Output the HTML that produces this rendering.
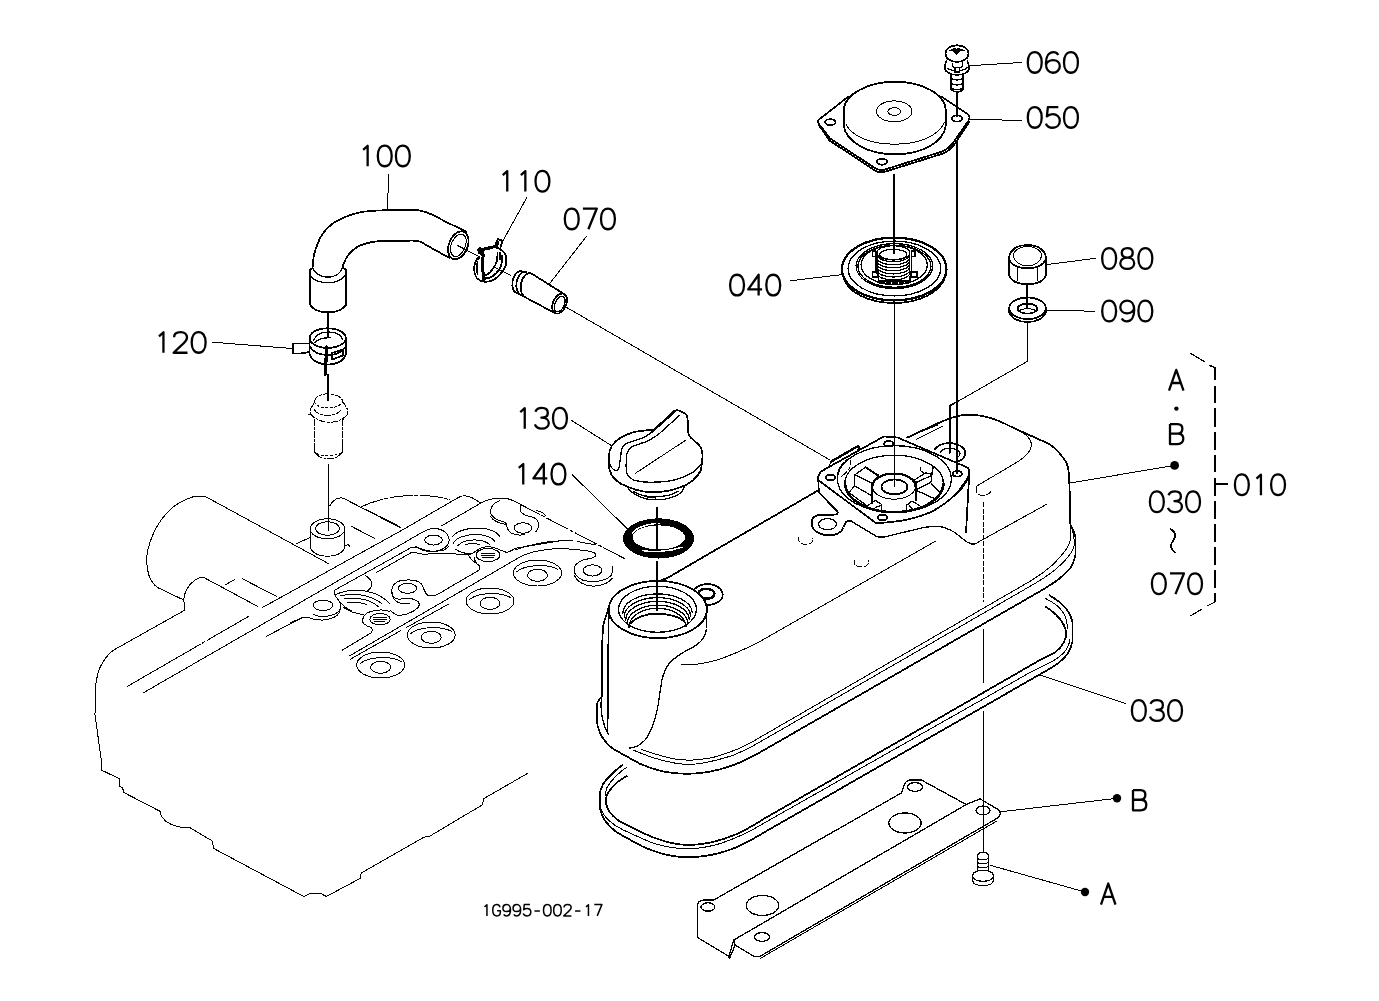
<!DOCTYPE html>
<html><head><meta charset="utf-8"><title>Parts diagram</title>
<style>
html,body{margin:0;padding:0;background:#fff;font-family:"Liberation Sans",sans-serif;}
svg{display:block}
svg *{fill:none;stroke:#000;stroke-linecap:round;stroke-linejoin:round}
.k{stroke-width:1.75}
.m{stroke-width:1.3}
.t{stroke-width:1}
.e{stroke-width:1;stroke:#000}
.lbl path{stroke-linecap:butt;stroke-linejoin:round;vector-effect:non-scaling-stroke;shape-rendering:geometricPrecision}
.f{fill:#000;stroke:none}
circle.f{shape-rendering:geometricPrecision}
.w{fill:#fff}
.tx{font-family:"Liberation Sans",sans-serif;fill:#000;fill-opacity:0;stroke:none}
.wf{fill:#fff;stroke:none}
</style></head><body>
<svg shape-rendering="crispEdges" width="1379" height="1001" viewBox="0 0 1379 1001">
<rect x="0" y="0" width="1379" height="1001" style="fill:#fff;stroke:none"/>
<g class="lbl" stroke-width="2.30"><path transform="translate(1027.80,52.05) scale(0.9929,0.9409)" d="M7,0 C3,0 0,4 0,11 C0,18 3,22 7,22 C11,22 14,18 14,11 C14,4 11,0 7,0 Z"/><path transform="translate(1045.90,52.05) scale(0.9929,0.9409)" d="M12.5,3 C11.5,1 9.5,0 7.5,0 C3,0 0,4.5 0,12 C0,18.5 3,22 7,22 C11,22 14,19 14,15 C14,11 11,8.5 7,8.5 C3.5,8.5 0.5,11 0,14"/><path transform="translate(1064.00,52.05) scale(0.9929,0.9409)" d="M7,0 C3,0 0,4 0,11 C0,18 3,22 7,22 C11,22 14,18 14,11 C14,4 11,0 7,0 Z"/></g>
<text class="tx" x="1027.8" y="72.8" font-size="28.6">060</text>
<g class="lbl" stroke-width="2.30"><path transform="translate(1027.80,107.05) scale(0.9929,0.9409)" d="M7,0 C3,0 0,4 0,11 C0,18 3,22 7,22 C11,22 14,18 14,11 C14,4 11,0 7,0 Z"/><path transform="translate(1045.90,107.05) scale(0.9929,0.9409)" d="M12.5,0 L2,0 L1,10 C2.5,8.5 4.5,7.5 7,7.5 C11,7.5 14,10.5 14,14.5 C14,19 11,22 7,22 C3.5,22 1,20.5 0,17.5"/><path transform="translate(1064.00,107.05) scale(0.9929,0.9409)" d="M7,0 C3,0 0,4 0,11 C0,18 3,22 7,22 C11,22 14,18 14,11 C14,4 11,0 7,0 Z"/></g>
<text class="tx" x="1027.8" y="127.8" font-size="28.6">050</text>
<g class="lbl" stroke-width="2.30"><path transform="translate(730.10,274.75) scale(0.9929,0.9409)" d="M7,0 C3,0 0,4 0,11 C0,18 3,22 7,22 C11,22 14,18 14,11 C14,4 11,0 7,0 Z"/><path transform="translate(748.20,274.75) scale(0.9929,0.9409)" d="M10.5,22 L10.5,0 L0,15.5 L14,15.5"/><path transform="translate(766.30,274.75) scale(0.9929,0.9409)" d="M7,0 C3,0 0,4 0,11 C0,18 3,22 7,22 C11,22 14,18 14,11 C14,4 11,0 7,0 Z"/></g>
<text class="tx" x="730.1" y="295.4" font-size="28.6">040</text>
<g class="lbl" stroke-width="2.30"><path transform="translate(1102.20,248.15) scale(0.9929,0.9409)" d="M7,0 C3,0 0,4 0,11 C0,18 3,22 7,22 C11,22 14,18 14,11 C14,4 11,0 7,0 Z"/><path transform="translate(1120.30,248.15) scale(0.9929,0.9409)" d="M7,10 C3.5,10 1.5,8 1.5,5 C1.5,2 3.5,0 7,0 C10.5,0 12.5,2 12.5,5 C12.5,8 10.5,10 7,10 C11,10 14,12.5 14,16 C14,19.5 11,22 7,22 C3,22 0,19.5 0,16 C0,12.5 3,10 7,10 Z"/><path transform="translate(1138.40,248.15) scale(0.9929,0.9409)" d="M7,0 C3,0 0,4 0,11 C0,18 3,22 7,22 C11,22 14,18 14,11 C14,4 11,0 7,0 Z"/></g>
<text class="tx" x="1102.2" y="268.9" font-size="28.6">080</text>
<g class="lbl" stroke-width="2.30"><path transform="translate(1102.20,300.65) scale(0.9929,0.9409)" d="M7,0 C3,0 0,4 0,11 C0,18 3,22 7,22 C11,22 14,18 14,11 C14,4 11,0 7,0 Z"/><path transform="translate(1120.30,300.65) scale(0.9929,0.9409)" d="M1.5,19 C2.5,21 4.5,22 6.5,22 C11,22 14,17.5 14,10 C14,3.5 11,0 7,0 C3,0 0,3 0,7 C0,11 3,13.5 7,13.5 C10.5,13.5 13.5,11 14,8"/><path transform="translate(1138.40,300.65) scale(0.9929,0.9409)" d="M7,0 C3,0 0,4 0,11 C0,18 3,22 7,22 C11,22 14,18 14,11 C14,4 11,0 7,0 Z"/></g>
<text class="tx" x="1102.2" y="321.4" font-size="28.6">090</text>
<g class="lbl" stroke-width="2.30"><path transform="translate(1234.90,474.45) scale(0.9929,0.9409)" d="M7,0 C3,0 0,4 0,11 C0,18 3,22 7,22 C11,22 14,18 14,11 C14,4 11,0 7,0 Z"/><path transform="translate(1253.00,474.45) scale(0.9929,0.9409)" d="M3.5,4.5 L8,0.3 L8,22"/><path transform="translate(1271.10,474.45) scale(0.9929,0.9409)" d="M7,0 C3,0 0,4 0,11 C0,18 3,22 7,22 C11,22 14,18 14,11 C14,4 11,0 7,0 Z"/></g>
<text class="tx" x="1234.9" y="495.1" font-size="28.6">010</text>
<g class="lbl" stroke-width="2.30"><path transform="translate(1149.90,491.45) scale(0.9929,0.9409)" d="M7,0 C3,0 0,4 0,11 C0,18 3,22 7,22 C11,22 14,18 14,11 C14,4 11,0 7,0 Z"/><path transform="translate(1168.00,491.45) scale(0.9929,0.9409)" d="M0.5,4 C1.5,1.5 4,0 7,0 C11,0 13,2.3 13,5.3 C13,8.5 10.5,10.3 6.5,10.3 C11,10.3 14,12.5 14,16 C14,19.5 11,22 7,22 C3.5,22 1,20.5 0,17.5"/><path transform="translate(1186.10,491.45) scale(0.9929,0.9409)" d="M7,0 C3,0 0,4 0,11 C0,18 3,22 7,22 C11,22 14,18 14,11 C14,4 11,0 7,0 Z"/></g>
<text class="tx" x="1149.9" y="512.1" font-size="28.6">030</text>
<g class="lbl" stroke-width="2.30"><path transform="translate(1151.90,573.45) scale(0.9929,0.9409)" d="M7,0 C3,0 0,4 0,11 C0,18 3,22 7,22 C11,22 14,18 14,11 C14,4 11,0 7,0 Z"/><path transform="translate(1170.00,573.45) scale(0.9929,0.9409)" d="M0,0 L14,0 L5.5,22"/><path transform="translate(1188.10,573.45) scale(0.9929,0.9409)" d="M7,0 C3,0 0,4 0,11 C0,18 3,22 7,22 C11,22 14,18 14,11 C14,4 11,0 7,0 Z"/></g>
<text class="tx" x="1151.9" y="594.1" font-size="28.6">070</text>
<g class="lbl" stroke-width="2.30"><path transform="translate(1131.90,700.15) scale(0.9929,0.9409)" d="M7,0 C3,0 0,4 0,11 C0,18 3,22 7,22 C11,22 14,18 14,11 C14,4 11,0 7,0 Z"/><path transform="translate(1150.00,700.15) scale(0.9929,0.9409)" d="M0.5,4 C1.5,1.5 4,0 7,0 C11,0 13,2.3 13,5.3 C13,8.5 10.5,10.3 6.5,10.3 C11,10.3 14,12.5 14,16 C14,19.5 11,22 7,22 C3.5,22 1,20.5 0,17.5"/><path transform="translate(1168.10,700.15) scale(0.9929,0.9409)" d="M7,0 C3,0 0,4 0,11 C0,18 3,22 7,22 C11,22 14,18 14,11 C14,4 11,0 7,0 Z"/></g>
<text class="tx" x="1131.9" y="720.9" font-size="28.6">030</text>
<g class="lbl" stroke-width="2.30"><path transform="translate(359.70,145.55) scale(0.9929,0.9409)" d="M3.5,4.5 L8,0.3 L8,22"/><path transform="translate(377.80,145.55) scale(0.9929,0.9409)" d="M7,0 C3,0 0,4 0,11 C0,18 3,22 7,22 C11,22 14,18 14,11 C14,4 11,0 7,0 Z"/><path transform="translate(395.90,145.55) scale(0.9929,0.9409)" d="M7,0 C3,0 0,4 0,11 C0,18 3,22 7,22 C11,22 14,18 14,11 C14,4 11,0 7,0 Z"/></g>
<text class="tx" x="359.7" y="166.2" font-size="28.6">100</text>
<g class="lbl" stroke-width="2.30"><path transform="translate(499.30,170.85) scale(0.9929,0.9409)" d="M3.5,4.5 L8,0.3 L8,22"/><path transform="translate(517.40,170.85) scale(0.9929,0.9409)" d="M3.5,4.5 L8,0.3 L8,22"/><path transform="translate(535.50,170.85) scale(0.9929,0.9409)" d="M7,0 C3,0 0,4 0,11 C0,18 3,22 7,22 C11,22 14,18 14,11 C14,4 11,0 7,0 Z"/></g>
<text class="tx" x="499.3" y="191.6" font-size="28.6">110</text>
<g class="lbl" stroke-width="2.30"><path transform="translate(564.80,208.55) scale(0.9929,0.9409)" d="M7,0 C3,0 0,4 0,11 C0,18 3,22 7,22 C11,22 14,18 14,11 C14,4 11,0 7,0 Z"/><path transform="translate(582.90,208.55) scale(0.9929,0.9409)" d="M0,0 L14,0 L5.5,22"/><path transform="translate(601.00,208.55) scale(0.9929,0.9409)" d="M7,0 C3,0 0,4 0,11 C0,18 3,22 7,22 C11,22 14,18 14,11 C14,4 11,0 7,0 Z"/></g>
<text class="tx" x="564.8" y="229.2" font-size="28.6">070</text>
<g class="lbl" stroke-width="2.30"><path transform="translate(155.50,332.05) scale(0.9929,0.9409)" d="M3.5,4.5 L8,0.3 L8,22"/><path transform="translate(173.60,332.05) scale(0.9929,0.9409)" d="M0.5,5.5 C0.5,2 3,0 7,0 C11,0 13.5,2.3 13.5,5.8 C13.5,9 11,11.5 7,15 L0,22 L14,22"/><path transform="translate(191.70,332.05) scale(0.9929,0.9409)" d="M7,0 C3,0 0,4 0,11 C0,18 3,22 7,22 C11,22 14,18 14,11 C14,4 11,0 7,0 Z"/></g>
<text class="tx" x="155.5" y="352.8" font-size="28.6">120</text>
<g class="lbl" stroke-width="2.30"><path transform="translate(516.80,407.95) scale(0.9929,0.9409)" d="M3.5,4.5 L8,0.3 L8,22"/><path transform="translate(534.90,407.95) scale(0.9929,0.9409)" d="M0.5,4 C1.5,1.5 4,0 7,0 C11,0 13,2.3 13,5.3 C13,8.5 10.5,10.3 6.5,10.3 C11,10.3 14,12.5 14,16 C14,19.5 11,22 7,22 C3.5,22 1,20.5 0,17.5"/><path transform="translate(553.00,407.95) scale(0.9929,0.9409)" d="M7,0 C3,0 0,4 0,11 C0,18 3,22 7,22 C11,22 14,18 14,11 C14,4 11,0 7,0 Z"/></g>
<text class="tx" x="516.8" y="428.6" font-size="28.6">130</text>
<g class="lbl" stroke-width="2.30"><path transform="translate(515.30,463.75) scale(0.9929,0.9409)" d="M3.5,4.5 L8,0.3 L8,22"/><path transform="translate(533.40,463.75) scale(0.9929,0.9409)" d="M10.5,22 L10.5,0 L0,15.5 L14,15.5"/><path transform="translate(551.50,463.75) scale(0.9929,0.9409)" d="M7,0 C3,0 0,4 0,11 C0,18 3,22 7,22 C11,22 14,18 14,11 C14,4 11,0 7,0 Z"/></g>
<text class="tx" x="515.3" y="484.4" font-size="28.6">140</text>
<g class="lbl" stroke-width="2.30"><path transform="translate(1169.00,369.85) scale(1.0357,0.9409)" d="M0,22 L7,0 L14,22 M2.7,14 L11.3,14"/></g>
<text class="tx" x="1169.0" y="390.6" font-size="28.6">A</text>
<g class="lbl" stroke-width="2.30"><path transform="translate(1170.00,424.05) scale(0.9500,0.9091)" d="M0,0 L0,22 L8,22 C12,22 14,19.5 14,16 C14,12.5 12,10.5 8,10.5 L0,10.5 M8,10.5 C11.5,10.5 13,8.5 13,5.2 C13,2 11.5,0 8,0 L0,0"/></g>
<text class="tx" x="1170.0" y="444.1" font-size="27.6">B</text>
<g class="lbl" stroke-width="2.30"><path transform="translate(1133.00,790.05) scale(0.9500,0.9227)" d="M0,0 L0,22 L8,22 C12,22 14,19.5 14,16 C14,12.5 12,10.5 8,10.5 L0,10.5 M8,10.5 C11.5,10.5 13,8.5 13,5.2 C13,2 11.5,0 8,0 L0,0"/></g>
<text class="tx" x="1133.0" y="810.3" font-size="28.0">B</text>
<g class="lbl" stroke-width="2.30"><path transform="translate(1101.00,883.55) scale(1.0357,0.9545)" d="M0,22 L7,0 L14,22 M2.7,14 L11.3,14"/></g>
<text class="tx" x="1101.0" y="904.5" font-size="29.0">A</text>
<g class="lbl" stroke-width="1.50"><path transform="translate(482.60,904.60) scale(0.5429,0.5136)" d="M3.5,4.5 L8,0.3 L8,22"/><path transform="translate(492.75,904.60) scale(0.5429,0.5136)" d="M13.5,5 C12.5,2 10.5,0 7.5,0 C3,0 0,4 0,11 C0,18 3,22 7.5,22 C11,22 14,19.5 14,15 L14,12 L8,12"/><path transform="translate(502.90,904.60) scale(0.5429,0.5136)" d="M1.5,19 C2.5,21 4.5,22 6.5,22 C11,22 14,17.5 14,10 C14,3.5 11,0 7,0 C3,0 0,3 0,7 C0,11 3,13.5 7,13.5 C10.5,13.5 13.5,11 14,8"/><path transform="translate(513.05,904.60) scale(0.5429,0.5136)" d="M1.5,19 C2.5,21 4.5,22 6.5,22 C11,22 14,17.5 14,10 C14,3.5 11,0 7,0 C3,0 0,3 0,7 C0,11 3,13.5 7,13.5 C10.5,13.5 13.5,11 14,8"/><path transform="translate(523.20,904.60) scale(0.5429,0.5136)" d="M12.5,0 L2,0 L1,10 C2.5,8.5 4.5,7.5 7,7.5 C11,7.5 14,10.5 14,14.5 C14,19 11,22 7,22 C3.5,22 1,20.5 0,17.5"/><path transform="translate(533.35,904.60) scale(0.5429,0.5136)" d="M2,12.5 L12,12.5"/><path transform="translate(543.50,904.60) scale(0.5429,0.5136)" d="M7,0 C3,0 0,4 0,11 C0,18 3,22 7,22 C11,22 14,18 14,11 C14,4 11,0 7,0 Z"/><path transform="translate(553.65,904.60) scale(0.5429,0.5136)" d="M7,0 C3,0 0,4 0,11 C0,18 3,22 7,22 C11,22 14,18 14,11 C14,4 11,0 7,0 Z"/><path transform="translate(563.80,904.60) scale(0.5429,0.5136)" d="M0.5,5.5 C0.5,2 3,0 7,0 C11,0 13.5,2.3 13.5,5.8 C13.5,9 11,11.5 7,15 L0,22 L14,22"/><path transform="translate(573.95,904.60) scale(0.5429,0.5136)" d="M2,12.5 L12,12.5"/><path transform="translate(584.10,904.60) scale(0.5429,0.5136)" d="M3.5,4.5 L8,0.3 L8,22"/><path transform="translate(594.25,904.60) scale(0.5429,0.5136)" d="M0,0 L14,0 L5.5,22"/></g>
<text class="tx" x="482.6" y="915.9" font-size="15.6">1G995-002-17</text>
<circle class="f" cx="1176.4" cy="408.6" r="2.2"/>
<circle class="f" cx="1174.6" cy="465.4" r="4.4"/>
<circle class="f" cx="1117" cy="798.3" r="4.2"/>
<circle class="f" cx="1085" cy="892" r="4.2"/>
<path class="k" d="M1170.5,529 C1176,532 1176.5,536 1173.5,540 C1170,544.5 1170,549 1175,552.4"/>
<path class="m" d="M1191,353.6 L1205,362 M1210,365.6 L1215,367.6"/>
<path class="m" d="M1215,367.6V380 M1215,386V403 M1215,408V427 M1215,432V450 M1215,455V472 M1215,478V496 M1215,501V519 M1215,524V542 M1215,547V565 M1215,570V588 M1215,593V602 L1207,606 M1202,609 L1191,615.6 M1215,484 H1228"/>
<g class="t"><path d="M968.3,65.8 L1021.7,62.5"/><path d="M969.2,119.2 L1021.7,120.5"/><path d="M790,280.8 L841.3,274.7"/><path d="M1045.8,264.7 L1095.8,258.3"/><path d="M1045.8,310 L1095,311.3"/><path d="M1070,483 L1174.6,465.4"/><path d="M1040,675 L1126,703.75"/><path d="M1001,811.75 L1117,798.3"/><path d="M991,865.5 L1085,892"/><path d="M388.9,174 L387.2,210.2"/><path d="M526.9,197.4 L501.5,243.4"/><path d="M586.3,236.6 L549.3,284"/><path d="M212.5,342.2 L293.2,348.6"/><path d="M571.7,420.5 L611.7,445.8"/><path d="M572.5,475 L627.2,528.7"/></g>
<g class="k"><path d="M312.5,268.0 C312.8,265.8 313.1,259.0 314.0,255.0 C314.9,251.0 316.3,247.1 317.6,243.8 C318.9,240.5 320.1,237.7 321.8,235.0 C323.5,232.3 325.5,230.1 327.7,227.9 C329.9,225.7 332.3,223.7 335.0,222.0 C337.7,220.3 340.8,219.0 343.7,217.7 C346.6,216.4 349.4,215.3 352.5,214.3 C355.6,213.3 358.8,212.5 362.5,211.9 C366.2,211.3 370.9,211.0 375.0,210.7 C379.1,210.4 381.3,210.4 387.2,210.2 C393.1,210.0 404.9,209.6 410.4,209.7 C415.9,209.8 416.9,210.0 420.0,210.6 C423.1,211.2 424.8,211.5 429.2,213.4 C433.6,215.3 440.4,219.0 446.6,222.1 C452.8,225.2 463.2,230.2 466.5,231.8"/><path d="M449.5,258 L420.5,241.8 C417,240.6 416,240.6 413,240.6 L382.8,240.9 C372,241.5 366,243 360,245.5 C352,249.5 347.5,255.5 345.5,259.5 C343.5,263.5 342.8,266 342.5,268"/><path d="M312.5,268 L309.8,269.5 L309.8,304.5 C314,311 322,312.4 328,312.4 C335,312.4 343,310 346.3,304.5 L346.3,270 L342.5,267.5"/></g>
<g class="m"><path d="M312.5,268 C316,274.5 322,277.2 328,277.2 C334,277.2 340,274 342.5,268"/><path d="M309.8,275.5 C314,280.5 321,282.7 328,282.7 C335,282.7 342,280 346.3,274.3"/></g>
<ellipse class="k" cx="458.3" cy="245.3" rx="9.3" ry="14.6" transform="rotate(22 458.3 245.3)"/>
<ellipse class="t" cx="458.3" cy="245.3" rx="7" ry="11.8" transform="rotate(22 458.3 245.3)"/>
<g class="t"><path d="M457.8,245.6 L480,257.2"/><path d="M494.6,267.3 L510.4,275.4"/><path d="M565,306.5 L830,460"/></g>
<path class="k" d="M328,312.4 V337.5"/>
<path class="k" d="M327.8,374.3 V400.7"/>
<path class="t" d="M328.3,464 V531"/>
<g class="k"><path d="M531.3,273.4 L565.3,294.8"/><path d="M518.1,293.5 L554.3,312.8"/><path d="M522.2,271.4 C518,270 514,274 512.5,281 C511.5,288 514,293 518.1,293.5"/><path d="M526.2,271.9 C522,271 518,275 516.5,282 C515.5,289 518,294 521.5,295.3"/><path d="M531.3,273.4 C527,272 522.5,276.5 521,283.5 C520,289.5 521.5,294.5 524.5,296.8"/></g>
<ellipse class="k" cx="559.6" cy="303.6" rx="6.6" ry="10.6" transform="rotate(24 559.6 303.6)"/>
<ellipse class="m" cx="559.8" cy="304" rx="4.6" ry="8.3" transform="rotate(24 559.8 304)"/>
<g class="k"><path d="M478.8,256.5 C476,260 474.2,264.5 474,269 C474.2,273 475.5,276.3 477,278.5 C479.5,280.7 482,281.7 484.8,281.8 C488,281.9 491,281.2 493.2,280.2 C497,278 500,275 501,273.2 C503.5,270 505.5,266.5 506,264.8 C506.3,261.5 506.3,258.5 505.8,255.8 C504.5,252.5 502.5,250.5 501,249.8 C499,248.6 497,247.3 495,246.2 L484.8,248 C482,249.5 480,251.5 478.8,253.5"/><path d="M483.2,255 C482.5,262 482.5,271 484,279.5" style="stroke-width:3"/><path d="M478.8,258 C477,262 476.5,268 477.5,274"/><path d="M478.5,250 C484,249.5 490,248 496.5,246.3" style="stroke-width:3.2"/><path d="M497.4,252.8 C497.6,256 497.4,258.5 496.8,261.2 C496,264 494.8,266.3 493.2,268.4 C491.5,270.8 489.8,272.8 487.8,274.4 C486.5,275.2 485.5,275.6 484.2,275.6"/><path d="M502.2,255.8 C502.3,260 502,263 501,266 C499.5,269.5 498,271.5 496.2,273.2 C494,275.5 491.5,277 489,278 C487.5,278.2 486,278.2 484.8,278"/><path d="M495,246.2 L497.7,239 L502.5,240.8 L500.4,248 M498.6,242 L496.2,248"/><path d="M500,253 V259.5"/></g>
<path class="f" d="M477,249.2 L480,246.8 L484.8,249.8 L483.5,254 L481.2,256.4 L478.5,252 Z"/>
<path d="M486,252.5 L494.5,248.2 M488.5,255 L491,253" style="stroke:#fff;stroke-width:1"/>
<path d="M477,260 L480,262.5" style="stroke:#fff;stroke-width:1.2"/>
<g class="k"><ellipse cx="327.7" cy="338.1" rx="18.1" ry="9.8"/><path d="M309.6,338.1 V354.4 C312,361 320,364.6 327.7,364.6 C336,364.6 344,361 345.8,354.4 V338.1"/><path d="M309.6,346.5 C314,353.5 322,355 327.7,355 C334,355 342,353 345.8,346.5"/><path d="M309.6,343.5 H293.2 V353.5 H300 L309.6,352"/><path d="M326.8,347 L325.2,374.3" style="stroke-width:3.2"/><path d="M332,353 L343,349.5 V355.5 L332,359.5 Z"/></g>
<g class="m"><path d="M313.5,340.5 C316,334.5 322,332 328,332 C335,332 341,334.5 342.5,339.5"/><path d="M314,343 C318,338.5 324,338 330,337.5"/></g>
<g class="t" stroke-dasharray="6 2 2 2"><path d="M314.5,401.5 C314.8,397 320.5,393.9 327.7,393.9 C335.5,393.9 342,397 342.6,401.2"/><path d="M314.5,401.5 C315.5,405.5 321,407.9 327.7,407.9 C335,407.9 341.5,405.5 342.6,401.2" stroke-dasharray="2 2.5"/><path d="M314.5,402 L310.3,409.6 V413 L315,419.8 M342.6,401.2 L347.7,409.6 V414.3 L342.6,419.8"/><path d="M314.1,409.6 C316,412.5 318.5,413.6 320.5,414.3 C323,415.2 325.5,415.6 328.1,415.6 C331.5,415.5 334.5,414.5 337.5,413 C339.5,411.8 340.8,410.5 341.7,409.2"/><path d="M310.3,413 C313,417 316.5,419.3 320.5,420.7 C323.5,421.8 326,422.3 329,422.4 C332,422.3 334.8,421.9 337.5,421.1 C341.5,419.5 345,417.5 347.3,414.7"/><path d="M314.5,419.8 V452.1 C316,454.5 318,456 320.5,457.2 C322,458.2 323.2,458.7 324.7,458.9 L332.4,458.5 C334,458.2 335.5,457.8 336.6,457.2 C338.8,455.8 340.5,454 341.7,452.1"/><path d="M342.2,419.8 V440" /><path d="M317,453.5 C320,455.2 324,455.6 328,455.6 C332,455.6 336.5,455 339.5,453.3" stroke-dasharray="2 2.5"/></g>
<path class="m" d="M342.2,440 V452 L337.5,456.5 M314.5,447 V452 L319,456"/>
<path class="t" d="M308.2,414.3 H311.5"/>
<g class="k"><path d="M848.5,96.5 L819,119.5 C817.8,120.8 817.8,122.5 819,124 L830,138.3 L874,167.5 C877,169.6 880,170.3 883.3,170 L941.7,151.7 C948,149 952,145 955,140 L968.3,121 C969.8,118.5 969.8,116 968,114.3 L941.7,96.7"/><path d="M818.5,124.5 L829.5,140.5 L874,170 C877,172 880,172.6 883.5,172.2 L942.5,153.7 C949,151 953.5,146.5 956.5,141.5 L969.3,122"/><path d="M843.7,125.5 V110 C845,94 868,81.7 895,81.7 C922,81.7 945,94 945.8,110 V125.5"/><path d="M843.7,125.5 C846,142 868,154.3 895,154.3 C922,154.3 944,142 945.8,125.5"/></g>
<g class="t"><path d="M845.8,124 C852,137 872,144.2 895,144.2 C918,144.2 939,136 944.2,122.5"/><ellipse cx="894.2" cy="111.3" rx="17.8" ry="10.4"/><ellipse cx="894.4" cy="111.5" rx="6.4" ry="3.8"/></g>
<g class="k"><ellipse cx="830.3" cy="122.2" rx="5.2" ry="3"/><ellipse cx="957" cy="118.5" rx="5.2" ry="3"/><ellipse cx="882" cy="161.7" rx="5.2" ry="3"/></g>
<path class="k" d="M894.2,174.5 V253.5"/>
<path class="k" d="M956.8,92.5 V116.7 M956.8,141.7 V473.5"/>
<g class="k"><ellipse cx="957" cy="53.6" rx="11.6" ry="8.3"/><path d="M946.5,61 C945,63 945,65 945.1,67.5 L945.2,69.5 C946,71.5 948,72.8 951.3,74 M967.3,61 C968.7,63 968.9,65 968.8,67.5 L968.8,70 C968,72 965.5,73.3 962.7,74.2"/><path d="M951.3,74 V89.5 C953,91.5 955,91.9 957,91.9 C959.5,91.9 961.5,91.3 962.7,89.5 V74.2"/></g>
<path class="f" d="M948,51.2 C950.5,49 953.5,48 955.8,48.1 L956.6,49.4 L957.8,48.1 C960.5,48.1 963.8,49.3 966,51.2 L960.3,51.4 L956.2,54.8 L953.2,51.4 Z"/>
<g class="m"><path d="M951.3,78.5 C955,80.5 959,80.5 962.7,78.5 M951.3,83.5 C955,85.5 959,85.5 962.7,83.5 M951.3,88 C955,90 959,90 962.7,88"/><path d="M952.3,63.5 V66 L954.5,67.8 M962.3,63 V66 L960.5,67.8"/><path d="M954.9,67.8 H959.6 V72 H954.9 Z"/><path d="M947,68 C949,69.5 951.5,70.3 953.8,70.5 M967.2,67.8 C965,69.5 963,70.2 961,70.5"/><path d="M951.3,74 C954,75.3 960,75.3 962.7,74.2"/></g>
<g><ellipse cx="894.2" cy="269" rx="52.2" ry="31.4" style="stroke-width:2.3"/><path class="k" d="M843.5,278 C848,292.5 869,303 894.2,303 C919,303 940,292.5 945,277.5"/></g>
<g class="m"><ellipse cx="894.4" cy="268.5" rx="46.3" ry="27.4"/><ellipse cx="894.4" cy="266.1" rx="38.3" ry="22.5"/><ellipse cx="894.4" cy="266.3" rx="36.5" ry="21"/><ellipse cx="894.2" cy="265" rx="33.1" ry="19.6"/></g>
<g class="m"><ellipse cx="893.3" cy="252.8" rx="16.5" ry="7.2"/><ellipse cx="893.3" cy="254.5" rx="13.5" ry="5.2"/><path d="M876.8,254.5 A16.5,7.2 0 0 0 909.8,254.5"/><path d="M876.8,257.6 A16.5,7.2 0 0 0 909.8,257.6"/><path d="M876.8,260.6 A16.5,7.2 0 0 0 909.8,260.6"/><path d="M876.8,263.6 A16.5,7.2 0 0 0 909.8,263.6"/><path d="M876.8,266.7 A16.5,7.2 0 0 0 909.8,266.7"/><path d="M876.8,269.8 A16.5,7.2 0 0 0 909.8,269.8"/><path d="M876.8,272.8 A16.5,7.2 0 0 0 909.8,272.8"/><path d="M876.8,252.8 V273.5 M909.8,252.8 V273.5"/></g>
<g class="k"><path d="M875.9,256.5 V271.5 M911.6,256.5 V271.5"/><path d="M872.6,251.2 H875.9 V256.5 H872.6 Z M911.6,251.2 H915 V256.5 H911.6 Z"/><path d="M872.4,272 H878.5 V277.2 H872.4 Z M910.7,272 H916.8 V277.2 H910.7 Z"/><path d="M878.5,276.3 V280.7 H909.8 V276.3"/><path d="M880,283 H908" stroke-dasharray="4 2.5" style="stroke-width:2.2"/></g>
<path class="t" d="M894.4,304.5 V478"/>
<path class="k" d="M894.4,477 V486.5"/>
<g class="k"><path d="M1009.2,258 C1009.5,250 1017,245 1027.5,245 C1038,245 1045.5,250 1045.8,258 V275 C1044,281 1037,284.2 1027.5,284.2 C1018,284.2 1011,281 1009.2,275 Z"/><path d="M1009.2,259.5 C1012,265.5 1019,268.3 1027.5,268.3 C1036,268.3 1043,265.5 1045.8,259.5"/><ellipse cx="1027.5" cy="308.3" rx="18.3" ry="10.8"/><path d="M1009.2,309 V312 C1011,318.5 1019,322 1027.5,322 C1036,322 1044,318.5 1045.8,312 V309"/><ellipse cx="1027.5" cy="308.6" rx="9.8" ry="5"/></g>
<g class="t"><path d="M1013.3,256 C1013.5,250.5 1019.5,246.5 1027.5,246.5 C1035.5,246.5 1041.5,250.5 1041.7,256 C1040,262.5 1034,265.8 1027.5,265.8 C1021,265.8 1015,262.5 1013.3,256 Z"/><path d="M1017.5,267 V280.8 M1037.5,267 V280.8"/><path d="M1019,311 C1022,308 1033,308 1036,311"/></g>
<path class="k" d="M1027.2,284.2 V308"/>
<path class="t" d="M1027.5,322.5 V361.3 L950,406 V453"/>
<ellipse class="k" cx="707.5" cy="594.6" rx="15.2" ry="10.4"/>
<ellipse cx="706.3" cy="593.8" rx="8.1" ry="5" style="stroke-width:2.6"/>
<g class="k"><ellipse cx="657.8" cy="609.5" rx="49.1" ry="28.6" style="fill:#fff"/><ellipse cx="657.5" cy="609.3" rx="39" ry="23" class="m"/><path d="M608.9,606.5 C607.5,614 604.5,619 603.5,624 C602.5,632 602.3,640 602.2,650 L601.8,697"/><path d="M608.7,614 L607.5,733.5"/><path class="m" d="M706.9,610 L706.5,628.5 C706,633 705,635.5 703.5,638 C700,643.5 694,647 687.5,650 C680,654 674,658.5 670,662.5 C666,667.5 663.5,673 661.9,680 L658.1,705 C656.5,714 654.5,721 652.5,726.3 C650,732.5 647.5,737 645,740 C642,743.5 639,745.5 636.3,746.5 C634,747.5 631.5,748 629.4,748.1"/></g>
<g class="m"><path d="M622.9,613.2 A34.6,18.8 0 0 1 692.1,612.2"/><path d="M624.4,616.9 A33.1,18.8 0 0 1 690.6,615.9"/><path d="M625.7,620.6 A31.8,18.8 0 0 1 689.3,619.6"/><path d="M627.2,624.4 A30.3,18.8 0 0 1 687.8,623.4"/><path d="M628.9,627.6 A28.6,18.8 0 0 1 686.1,626.6"/></g>
<path class="k" d="M630,623.8 C636,617 646,613.7 657.5,613.7 C669,613.7 680,617 685,622.5"/>
<path class="k" d="M657,507.3 V524 M657,524 V548.2 M657,561.3 V610.5"/>
<path class="k" d="M659.4,581 C664,579.5 668,577.5 672,575.3 L730,541.5 L818,490.5"/>
<path class="t" d="M681.2,664.8 C690,665.6 700,664.5 715,660.6 C730,656 745,649.5 762,640.3 L935,541.5"/>
<path class="t" d="M641.3,749.4 C648,752 653,753.6 658.8,755 C666,757.5 672,758.7 677.5,759.4 C684,760.2 690,760.3 696.3,759.8 C703,759.2 709,758.4 715,756.9 C724,754.5 732,751.5 740,748.1 C748,744.5 755,740.7 762,736.2 L1030,581.3 C1040,575.5 1047,570 1053,564.5 C1060,557.5 1066,550 1068.8,545 C1070.3,541.5 1070.6,539.5 1070.6,537.5"/>
<path class="t" d="M633.1,750 C640,753 646,755.3 652.5,757.5 C660,760 668,762 675,763.1 C680,763.9 685,764.4 690,764.4 C697,764.3 703,763.3 708.8,761.9 C718,759.8 726,757.8 733.8,755 C744,751 753,746.5 762,740.8 L1032,585.2 C1042,579.5 1050,574 1056,569 C1063,563 1069,556.5 1072.5,550.5 C1074.3,546.5 1074.6,544 1074.4,541.3 C1074,536 1072.8,531 1071.3,526.3"/>
<path class="k" d="M601.8,697 C598.8,699.5 597.2,702 596.9,705 L596.9,721.3 C597.5,727.5 599.5,732.5 602.5,737.5 C606,743 610,747 615,750 L640,763.8 C648,767.5 656,770 665,771.9 C672.5,773.2 680,773.8 687.5,773.8 C695,773.7 702,773.1 708.8,771.9 C718,770.2 726,767.8 733.8,765 C744,761 753,756.5 762,751.2 L1040,591.3 C1048,586.5 1053,583.5 1057,580.5 C1062,576.5 1067,572.5 1070,568.5 C1073,563.5 1075,558 1075.6,553.8 L1075.6,537.5 C1075,533 1073.5,529.5 1071.3,526.3"/>
<path class="m" d="M601.8,697 C600.8,702 600.8,707 601.3,711.3 C602,717.5 603.5,722.5 605,727.5 C606.3,730.5 607.5,732.8 608.8,734.4"/>
<path class="k" d="M907.5,437.5 L930,426.9 C934,425 938,423.2 942.5,421.3 C947.5,419.2 952.5,417.3 957.5,416 C961,415.2 964,414.8 967.5,414.8 C972,414.8 976,415.1 980,415.6 C985,416.4 990,417.7 995,419.4 C1000,421.4 1006,424 1011.3,426.9 L1048.8,443.8 C1053,446.3 1057,449.8 1060,453.8 C1063,457.5 1065.3,460.5 1066.9,463.8 C1068.3,467.5 1068.8,471 1069,475 L1070,500 L1070.6,537.5"/>
<path class="t" d="M1011.3,426.9 C1017,429.5 1021.5,431.8 1025,434.4 C1027.5,436 1029.2,438 1030,440 C1031.2,442 1031.5,444.2 1031.3,446.3 C1030.8,449 1029.5,451.5 1027.5,453.8 C1024.5,457 1021.5,459.5 1017.5,461.9 L976.3,486.3"/>
<path class="t" d="M1046.9,504.1 L975.5,543.7"/>
<path class="t" d="M906.3,437.5 L937.5,425 M916.3,439.4 L942.5,426.3"/>
<path class="t" stroke-dasharray="6 2.5" d="M976.3,486.3 V491.3 C977.5,494.5 980,495.8 983,495.6 C986.5,495.3 989,494 990,492.5 V489"/>
<path class="t" stroke-dasharray="4.5 2" d="M983.4,502.5 V602"/>
<path class="t" d="M983.4,629.4 V682.5 M983.4,711 V852.5"/>
<path class="t" stroke-dasharray="5 2.5" d="M798.5,537 V540.5 C800,543.5 803,544.3 806,544.3 C809,544.3 811.5,543.5 812.5,541 V538"/>
<path class="t" stroke-dasharray="5 2.5" d="M854,559.5 V563 C855.5,566 858.5,566.8 861.5,566.8 C864.5,566.8 867.5,566 868.5,563.5 V560.5"/>
<g class="k"><path d="M883.8,436.5 L897.5,437.5 L967.5,467.5 C969,469 969.5,470 969.4,471.3 C969,474 968.5,476.5 967.5,478.8 C965,484.5 961,490 955,495 C948,501.5 940,507.5 930,512.5 C918,517.5 906,520.5 892.5,521.9 L878,523.2 C876.5,523.2 875.5,522.8 874.5,522 L819.5,481 C818,479.5 817.8,477.5 818.2,476.3 C818.8,474.5 820,472.5 821.3,471.3 Z"/><path d="M969.4,471.3 L966,532.5"/><path d="M818.2,476.5 L818.8,492.5 L837.5,511.3"/><path d="M837.5,511.3 C838.5,513 837.5,514.5 835,514.6 L818,515 C812.5,516.5 811.5,520.5 811.8,523.8 C812.5,530 818,534.5 828,535.3 C836,535.5 841.5,532.5 843.5,527.5 C844.5,524.5 845,522 847,521.3 L851.3,521.3"/><path d="M831.3,461.5 L857.3,446.5 C858.5,446 859.3,446.5 859,447.8" style="stroke-width:2.4"/><path class="t" d="M831.3,461.5 L829.5,465.5 M859,447.8 L858,449.5"/></g>
<g class="m"><path d="M851.3,521.3 L876.3,536.3 C879,537.5 882,537.3 885,536.8 L892.5,535 L923.8,527.5 C930,526.5 937,526.3 942.5,527 C947.5,528.5 951.5,530.5 955,532.5 L963,539 C965.5,541.2 968,543 971,543.8 C973,544.2 974.5,544 975.5,543.7"/><ellipse cx="827.5" cy="524.2" rx="9" ry="5.6"/><ellipse cx="894.4" cy="479" rx="56.9" ry="33.4"/></g>
<path class="m" d="M844.8,483.7 C844.8,468 867,455.2 894.1,455.2 C921.5,455.2 943.5,468 943.5,483.7"/>
<path d="M844.8,483.7 C846,499.5 867,512.2 894.1,512.2 C921.5,512.2 942.5,499.5 943.5,483.7" style="stroke-width:2.6"/>
<g class="k"><path d="M872.4,486.4 C872.4,479.3 882,473.6 894,473.6 C906,473.6 915.5,479.3 915.5,486.4" style="stroke-width:2.2"/><path class="t" d="M872.4,486.4 C872.4,493.5 882,499.2 894,499.2 C906,499.2 915.5,493.5 915.5,486.4"/><path d="M872,483.6 V502.8 M916,482 V500.4"/><ellipse cx="894.5" cy="486.9" rx="13" ry="7.4"/><path class="m" d="M881.6,504.4 V510 M906.7,504.4 V510"/></g>
<g class="m"><path d="M854.8,474.8 L865.6,467.2 M878.4,475.6 L872,483.2 L854.8,474.8 V486 L871.6,495.6"/><path d="M865.6,467.2 L878.4,475.6" style="stroke-width:2"/><path d="M854.8,486 L848.8,492.4 L867.2,506"/><path d="M867.2,506 L875.2,500.4 L881.6,504.4 M875.2,507.5 L880.5,505.5"/><path d="M915.1,479.6 L925.5,472.8 L931.9,474.4 L931.1,482 L915.9,490 M915.9,482.8 L931.1,475.6"/><path d="M920.3,467.2 L920.7,470.8 L923.1,472.8 M933.1,467.6 L931.9,474"/><path d="M931.1,484 L939.9,492.4 M916.5,490.5 L936.5,499.5"/><path d="M906.7,505.2 L912,501.2 L919.1,505.2 M909.2,506 L912,508.4"/></g>
<g class="k"><ellipse cx="888.8" cy="443.8" rx="4.6" ry="2.7"/><ellipse cx="830.6" cy="477.5" rx="4.6" ry="2.7"/><ellipse cx="957.2" cy="473.8" rx="4.6" ry="2.7"/><ellipse cx="882.5" cy="517.5" rx="4.6" ry="2.7"/></g>
<path class="t" stroke-dasharray="4 2" d="M848.8,458.5 C842,462 838,468 837.5,475 M850.5,461 C852,466 848,472 841,476.5"/>
<path class="k" d="M935,449 C939,444.5 943,443.1 948.8,443.1 C958,443.1 965.2,447.5 965.2,453.1 C965.2,457.5 962,460.5 957,462"/>
<path class="m" d="M940.5,452.5 C942,449.5 945,448.2 949.4,448.2 C955,448.2 959.5,450.5 960,453.5 C960,455 959,456.5 957.5,457.5"/>
<path class="t" d="M949.4,405.6 V453.8 M960,400 L949.4,405.6"/>
<path class="t" d="M967.5,477.5 C964,483 959,490 955,495"/>
<path class="t" d="M818.8,490.5 L805,497.5"/>
<g class="k"><path d="M608.8,457.1 C609,452 610,449 611.8,445.9 C614,442.5 617,440 620.5,437.7 C624.5,435.3 629,433.5 633.7,432.1 C638,431.2 642,430.7 645.9,430.4 L654.1,430.1 L673.5,411.2 C675,410.3 676,410.1 677.5,410.2 C679.5,410.6 681,411.2 682.6,412.2 C684.5,413.3 685.8,414.2 686.7,415.3 C687.4,417 687.7,418.5 687.7,420.4 L688.2,432.6 C688.8,434.8 689.5,436.3 690.8,437.7 L698.9,444.8 C700.5,446.7 701.5,448.7 702,450.9 C702.4,453 702.5,455 702.5,457.1 L701,470.3 C699,474 696,477.5 692.8,480.5 C690,482.5 687.5,484.2 684.7,485.6 C679,488 673,490 666.3,491.2 C661,491.9 656,492.2 651,492.2 C646,492 641,491.2 635.8,489.7 C630,488 625,486 620.5,483.6 C617,481 614,478.5 611.8,475.4 C610,472 609,468.5 608.8,465.2 Z"/><path d="M652,431.6 L674.5,411.7" style="stroke-width:2.4"/></g>
<g class="m"><path d="M701,464.2 C698.5,467.5 696,470 692.8,472.3 C689,474.8 684.5,476.8 679.6,478.5 C675,479.9 671,480.9 666.3,481.5 C659,482.2 651,482.4 643.9,482 C640,481.5 636.5,481 633.7,480 C631,478.8 629,477.3 627.6,475.4 C626.5,472.5 626.1,469.5 626.1,466.2 L626.6,454 C627.5,451 629.5,448.5 631.7,446.9 C636,444.8 641,443.3 646,441.8 C650.5,439.5 654.5,437.2 658.2,434.6 L679.6,415.3"/><path d="M609.2,462 C609.8,464.5 610.5,466 611.3,467.3 C612.5,469 614,470 615.4,470.3 C616.8,470.4 617.8,470 618.4,469.3 C619.5,467 619.8,464 620,461.1 L621.5,449.9 C622.3,447.3 623.7,445.3 625.6,443.8 C630,441.8 635.5,440.3 640.9,438.7 C644.5,437.2 647.5,435.5 650,433.6 L654.1,430.1"/><path d="M627.6,487.6 C629.5,490.5 632.5,492.8 635.8,494.8 C639.5,496.8 643.5,498.3 648,499.3 C653.5,500 659,500 664.3,499.3 C668.5,498.5 672.5,497.3 676.5,495.8 C679,494.3 681,492.5 682.6,490.7 L684.5,486"/><path d="M633.5,491.5 C640,495.8 650,497 657,496.7 C665,496.5 673,494.5 679,491"/><path d="M640,494.5 C647,497.6 652,498 656,498"/></g>
<path class="t" d="M635.2,473.4 L685.7,440.2"/>
<ellipse class="f" cx="658.5" cy="538.4" rx="35.6" ry="20.1"/>
<ellipse class="wf" cx="658.8" cy="537.4" rx="26.2" ry="12"/>
<path d="M632.3,533.5 C635,528 646,524 659.5,523.3" style="stroke:#fff;stroke-width:1.5"/>
<path d="M643,550.6 C652,552.3 668,552 682,547.3" style="stroke:#fff;stroke-width:1.5"/>
<path class="k" d="M657,524 V548.2"/>
<path class="k" d="M622.6,764.8 C619,767.5 615.5,770.5 612,773.8 C608.5,777 605.5,780.5 603.3,783.8 C601.5,787 600.2,790.5 599.8,793.8 L599.8,807.5 C600.8,812 602.3,816 604.5,820 C608,825 612,829 617,832.5 L642,846.3 C650,849.8 658,852.8 667,855 C674.5,856.5 682,857.3 689.5,857.3 C697,857.1 704,856.3 710.8,855 C719.5,853.2 728,850.8 735.8,847.5 C746,843 755,838 764,832.5 L1038.8,675 C1046,670.8 1052,667.5 1057.5,663.8 C1061.5,660.8 1065,657.5 1067.5,653.8 C1070,650 1071.8,645.5 1072.5,641.3 L1072.5,622.5 C1071.8,618.8 1070.5,615.5 1068.8,612.5 C1066.5,608.5 1063.5,605.5 1060,602.5 C1057,600 1053,597.5 1049.4,595.3"/>
<path class="k" d="M626.8,776 C623,778 620,780 617,782.5 C613.5,785.5 610.5,789 608.3,792.5 C606.5,795.5 605.8,797.5 605.8,800 C605.8,803.5 606.8,807 608.3,810 C611,814.5 615,818 619.5,821.3 L642,832.5 C650,836.5 658,839.5 667,841.9 C674.5,843.8 682,845 689.5,845 C697,844.8 704,844 710.8,842.5 C719.5,840.5 728,837.8 735.8,834.4 C746,830 755,824.5 764,818.8 L1040,660 C1046,656.8 1051,654.8 1055,652.5 C1059,649.5 1062,646 1063.8,642.5 C1065.5,639 1066.3,636 1066.3,632.5 C1066,630 1065,627.5 1063.8,625 C1062,621.5 1059.5,618 1056.3,615 C1053,612 1049.5,609 1045.6,606.5"/>
<path class="t" d="M626.4,767.5 C622.5,770 619,773 615.8,776.3 C612,780 609,784 607,787.5 C605.8,790.5 605.2,793.5 605,796.3"/>
<path class="t" d="M600.8,808.8 C602.5,813 605,817 608.3,820 C612.5,824 617.5,827.3 623.3,830 L648.3,841.3 C658,845 668,847.5 679.5,848.5 C686,849 692,848.8 698.3,848.1 C707,847 715.5,845.2 723.3,842.5 C738,837.5 751,831 764,823.1 L1030,672.5 C1039,667.8 1046,664.5 1052.5,661.3 C1058,658 1062,655 1065,651.3 C1068,647.5 1069.5,643.5 1070,638.8"/>
<path class="t" d="M1045.6,598.5 C1049.5,600.5 1053,602.5 1056.3,605 C1059.5,607.5 1062,610.5 1063.8,613.8 C1065.5,616.5 1066.5,619.5 1066.9,622.5 L1067.5,628.8"/>
<g class="m"><path d="M697.5,937.5 V905 C697.8,902.5 700,900.3 703.8,900 L713.8,900 L901.3,793 C902.5,790.5 902.8,788.5 903.8,786.3 C905,782.5 907,780.2 910,780 L921.3,780 L966.3,804.5 L980,798.8 L998.8,810 C1000.3,811.5 1000.5,813.3 1000,815 C999,817 997.5,818.5 995,819.5 L760,956.3 C757.5,957.2 755,956.8 752.5,955.5 L735,945 L733.8,940 L966.3,804.5"/><path d="M733.8,940 L728.8,956.3 L697.5,937.5"/><path d="M735,945.5 L729.5,958.5 L728.8,956.3"/><path class="t" d="M760.5,958.3 L996,821.5"/><ellipse cx="915" cy="787" rx="7.4" ry="4.4"/><ellipse cx="905" cy="823" rx="16.2" ry="10"/><ellipse cx="762.5" cy="905.5" rx="16.2" ry="10"/><ellipse cx="708" cy="907" rx="7" ry="4.2"/><ellipse cx="762" cy="937" rx="7.4" ry="4.4"/><ellipse cx="983" cy="810.5" rx="7" ry="4.4"/></g>
<g class="m"><path d="M977.5,871 V855 C978.5,853 981,852.4 983,852.4 C985.5,852.4 987.5,853.2 988.2,855 V871"/><path d="M977.5,858.5 C980,860.2 986,860.2 988.2,858.5 M977.5,862.5 C980,864.2 986,864.2 988.2,862.5 M977.5,866.5 C980,868.2 986,868.2 988.2,866.5"/><path d="M972.5,876 C972.5,872.5 977,870.3 983,870.3 C989,870.3 993.5,872.5 993.5,876 V880 C993.5,883.5 989,885.6 983,885.6 C977,885.6 972.5,883.5 972.5,880 Z"/><path d="M972.5,876.5 C974,880 978,881.3 983,881.3 C988,881.3 992,880 993.5,876.5"/></g>
<g class="e"><path d="M206.3,497 L328.8,563.8" /><path d="M206.3,497 C201,496.3 197,496.3 192.5,497 C185,499.5 178.5,503 172.5,507.5 C165,514 159.5,521.5 155,530 C151,538.5 148,547 147,555 C146.3,562 147,569 148.8,575 C150.5,580 153.5,584.5 157.5,587.5 L183.8,600" /><path d="M183.8,600 C183.8,596 184.8,593 186.3,590 C188.5,586 191.5,582.5 195,580 C198,578 201,577.3 203.8,577.5 L257.5,606.3" /><path d="M183.8,600 L185,610 L113.8,650 C108,654 103.5,660 100,667.5 C97,675 95.5,683 95.2,692.5 L95,715 L101.3,760 V770 L119.5,778.8 V786.3 L122.5,787.5 L123.8,792.5 L160,811.3 C160.5,814 161.3,816 162.5,817.5 C164.5,820.5 167,822.5 170,823.8 C173,825.5 176.5,826.5 180,827 L188.8,827 L212,840.8 L213.8,848.5 L303.8,896.5 L311.3,893 H320 L326.3,896.5 L360,878.5 L361.3,873 L423.8,837.3 L430,836 L482.5,804.8 L483.8,798.5 L527.5,773.5" /><path d="M262.5,607.5 L405,528.5 L458.3,497.5 C461,496 463,495.6 465,495.8 C467.5,496 469.5,496.6 471.7,497.5 L480,502.5" /><path d="M127.5,686.3 L248.8,616.3" stroke-dasharray="84 2.5 3 2.5 200"/><path d="M143,693 L423.3,531.7 C427,529.5 431,528.2 435,528.3 C439,528.6 442.5,530 445,531.7 C447.5,534 449,537 449.2,540 C449,542.5 448,545 446.7,546.7" /><path d="M266.3,636.3 L302.5,617.5 C305,617 307,617 308.3,617.5" /><path d="M225,585 L235,579.3 M242.5,578.8 L276.3,596.3" /><path d="M296.3,543.8 L310,537.5" /><path d="M351.3,526.3 L375,538.5" /><path d="M330,505.5 C331.5,502.5 333.5,500.5 335.8,499.2 C338,498 340,497.8 341.7,498 C343.5,498.3 345,499 346.7,500 L400,527.5" /><path d="M361.7,506.7 C367,504 373,501.8 380,500 C386,498.3 393,497 400,496.3 C407,495.6 413.5,495.3 420,495.3 C426,495.5 431.5,496 436.7,496.7 C441.5,497.5 446,498.7 450,500" stroke-dasharray="22 2.5 3 2.5"/><path d="M365,509.2 L400,526.5" stroke-dasharray="14 2.5 3 2.5"/><path d="M441.7,525.8 L481.7,502.5 C485.5,500.5 489,499.3 493.3,498.7 C497,498.2 501,498.1 505,498.3 C510,499 514.5,500.8 518.3,503.3" /><path d="M518.3,503.3 L625,558.8" stroke-dasharray="24 2.5 3 2.5"/><path d="M310.3,528.8 V547.5 C312,553 319,556.3 327.5,556.3 C336,556.3 343,553 344.8,547.5 V528.8" /><ellipse cx="327.5" cy="528.8" rx="17.3" ry="10"/><ellipse cx="327.5" cy="528.5" rx="11.9" ry="6.8"/><path d="M344.8,546 L348.5,544.5 L349.5,546.5" /><path d="M335,590 L411.3,547.5 L420,548.1 C422,548.8 423.5,549.5 425,550 C428,550.9 431.5,551.3 435,551.3 C438.5,551.1 441.5,550.6 443.8,550 C446,549 447.5,547.8 448.8,546.3" /><path d="M376.3,572.5 L411.3,552.5 C416,552.8 420,553.3 423.3,554.2 L446.7,553.3 L468.3,555 C471,554.3 473,553.2 475,551.7 L480,548.3 C483.5,547 487,546.5 490,546.7 C493,547.2 496,548 498.3,549.2 L506.7,552.5 C510,551.5 513,550 515,548.3 L559.8,540.8" /><path d="M335,590 C334,591.5 334,593 334.4,593.8 C335,595.5 336,597 337.5,598.8 C339,600.3 340,602 340.6,603.8 C341,605.5 341,607 340.6,608.8 C339.5,611 337.5,613 335,614 C331.5,615.5 327.5,616.5 323.3,616.7 C319.5,616.6 316,615.7 313.3,614.2" /><path d="M308.3,617.5 C313,619.5 318,620.3 323.3,620 C329,619.5 333.5,618 336.7,615.8 C338.5,614 339.7,612 340,610.8" /><ellipse cx="323" cy="605.3" rx="9.7" ry="5.3"/><path d="M290,623.3 L301.7,617.5" /><path d="M468.3,555 C469.8,556.8 470.8,558.8 471.7,560 L479,565.5 C480.3,567 480.3,568.5 479.2,570 L437.5,594.5 C434.5,595.8 431.5,596.2 428.3,595.8 C426.5,594.5 425.2,592.5 424.2,590 C423.5,587 422.5,585 420.8,583.3 C418,581 414.5,580 410,580 C406,579.8 402.5,580.2 400,580.8 C396.5,582 394,584 392.5,586.7 C391.5,589 391.5,591 391.7,593.3" /><path d="M391.7,589.2 L392.5,595.8 C394,597.5 396,598.7 398.3,599.2 L410,598.3 C414,599 416.5,600.3 418.3,601.7 C419.5,603.5 419.5,605.5 418.3,607.5 C415,610.5 411,612.7 406.7,614.2 C403,615.2 400,615.5 396.7,615 C394,613.8 392,612 390,610" /><path d="M392.5,595.8 C393.5,599 395.5,601.3 398.3,602.5 C402,603.8 406,604 410,603.7" /><ellipse cx="407.5" cy="588.3" rx="9.2" ry="5"/><ellipse cx="380" cy="619.2" rx="10.2" ry="5.8"/><path d="M374,617.5 H386 M373.5,619.6 H386.5 M375,621.8 H385" style="stroke-width:1.2"/><path d="M390,611.7 C387,610.3 383.5,609.8 380,610 C375,610.3 370,611.5 366.7,613.3 C364,615.5 362.7,617.5 362.5,620 C362.5,621.5 362.8,622.5 363.3,623.3 C365.5,625.5 368.5,626.8 371.7,627.5 C372.3,629.3 372.3,631 371.7,632.5 L342.5,650" /><path d="M335,595 C341,592 348,590.3 355,590 C362,590.2 369,591.5 375,593.5 C381,596 386,599.5 390,604" /><path d="M340,596 C348,594 356,594 364,595.5 C371,597.2 377,600 382,603.5" /><path d="M344,599 C352,597.5 360,598.2 367,600.3 C372,602 376,604.3 379,607" /><path d="M347,603 C354,601.8 361,602.5 367,604.5" /><path d="M343,607 C349,611.5 356,613.8 363.5,614.5" /><path d="M340,601.7 C343,606 347,609 352,611" /><path d="M365,575.5 C369,577.5 371.5,580.5 372,584 C371.8,587 370,589.5 366.7,591.2" /><ellipse cx="433.5" cy="540" rx="8.7" ry="5"/><path d="M416,546.5 C420,550 426,551.6 433,551.5 C440,551 445,548.5 447.5,545" /><path d="M452,537 C456,531.5 466,528 477,528 C488,528.3 497,531.5 500,537" /><path d="M453,543.5 C455.5,538 465,534.5 475.5,534.5 C485,534.6 492,537.5 495,541.5" /><path d="M458,545.5 C462,541.5 469,539.7 476,540 C482,540.3 487,542 489.5,544.5" /><path d="M465,544.5 C469,543.5 475,543.5 480,544.5" /><path d="M456,549.5 C460,552.5 466,553.8 472,553.5" /><ellipse cx="488" cy="555" rx="12" ry="6.5"/><path d="M482,553.5 H494 M481.5,555.5 H494.5 M483,557.5 H493" style="stroke-width:1.2"/><path d="M475,557 C474,560 475.5,563 479,565.5" /><path d="M491,512 C490,507 494,502.5 500,500.5 M490.5,513 C492,517 496,519.5 501,521 C504,521.8 506,522.5 506.5,524.5 C506.8,528 508,531 511,533 C515,535.2 520,535.5 525,534.5" /><path d="M490.5,516.5 C493,520.5 498,523 505.5,524.5" /><ellipse cx="523" cy="528" rx="9" ry="5.2"/><path d="M521,504.5 L520.5,511.5 C523,514.5 527,516 531,516.5 C535,517.5 537.5,520 538.5,523 C539,526 538,529 536,531.5" /><path d="M536,510.5 C540,511 544,513 546,516" /><path d="M350,655.6 L520,557 C527,553.5 533,551.5 540,550.6 C546,549.5 552,548.7 558.8,548.5 C564,548.5 569,548.9 573.6,549.5 C578,549.8 582,550.1 585.9,550.6 C589,551 592,551.7 594,552.6 C595.5,553.5 596.2,554.3 596,555.2 C595.5,556.5 594.5,557.2 593,557.7 C590,558.6 587,559.2 583.8,559.7" /><path d="M350,659.4 L401,630.5 M406,627.7 L448.1,604.4" /><path d="M515,550 C523,547 531,544.8 540,543.1 C546,542 552,541.3 558.8,541 L572.5,540.6 M577,541.5 L596,545" /><ellipse cx="380.6" cy="665.0" rx="24" ry="13"/><path d="M360.1,663.5 C368.6,656.5 390.6,655.5 401.1,661.5"/><ellipse cx="380.6" cy="667.3" rx="10" ry="6"/><ellipse cx="431.2" cy="635.0" rx="24" ry="13"/><path d="M410.7,633.5 C419.2,626.5 441.2,625.5 451.7,631.5"/><ellipse cx="431.2" cy="637.3" rx="10" ry="6"/><ellipse cx="490.0" cy="601.0" rx="24" ry="13"/><path d="M469.5,599.5 C478.0,592.5 500.0,591.5 510.5,597.5"/><ellipse cx="490.0" cy="603.3" rx="10" ry="6"/><ellipse cx="537.5" cy="573.0" rx="24" ry="13"/><path d="M517.0,571.5 C525.5,564.5 547.5,563.5 558.0,569.5"/><ellipse cx="537.5" cy="575.3" rx="10" ry="6"/><path d="M583.8,559.7 C580.5,560.5 578,562.5 575.7,564.8 C574.5,566.5 574.1,568 574.1,569.9 C574.3,572 574.8,573.5 575.7,575 C577.5,577.5 580,579 582.8,580.1 C586,581.2 589.5,581.6 593,581.6 C596.5,581.5 600,581 603.2,580.1 C606.5,579 609.5,577.5 611.3,575.5 C612.5,573 612.9,570 612.9,566.4" /><path d="M574.1,575 C575.5,578.5 578,581 580.8,582.7 C584.5,584.8 588.5,586 593,586.2 C597.5,586.1 601.5,585.2 605.2,583.7 C608.5,582.2 611,580.3 612.3,578.1" /><ellipse cx="592.5" cy="570.4" rx="9.2" ry="5.6"/></g>
</svg>
</body></html>
